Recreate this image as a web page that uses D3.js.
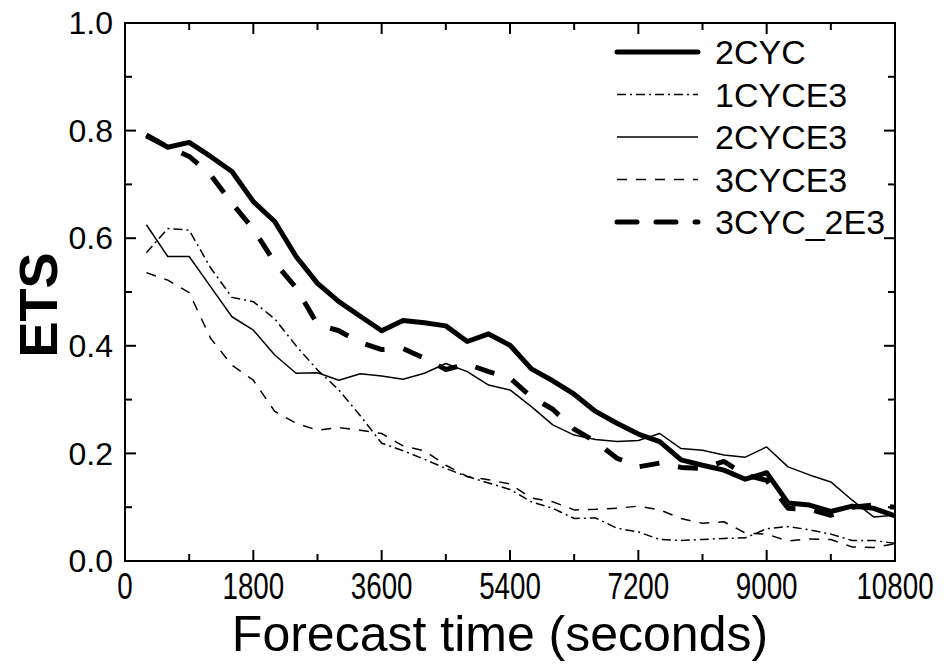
<!DOCTYPE html>
<html>
<head>
<meta charset="utf-8">
<script src="https://cdn.jsdelivr.net/npm/d3@7"></script>
<style>
  body { margin: 0; background: #fff; }
  text { font-family: "Liberation Sans", Arial, sans-serif; fill: #000; }
</style>
</head>
<body>
<div class="chart"></div>
<script>
// forecast time (s)
const times = [300, 600, 900, 1200, 1500, 1800, 2100, 2400, 2700, 3000, 3300, 3600,
    3900, 4200, 4500, 4800, 5100, 5400, 5700, 6000, 6300, 6600, 6900, 7200,
    7500, 7800, 8100, 8400, 8700, 9000, 9300, 9600, 9900, 10200, 10500, 10800]

// ETS per experiment
const ets2CYC = [.792, .769, .778, .752, .724, .668, .631, .566, .516, .482, .455, .428,
    .447, .443, .437, .408, .422, .401, .357, .335, .310, .278, .256, .236,
    .222, .188, .178, .169, .152, .164, .108, .104, .092, .102, .098, .084]
const ets1CYCE3 = [.573, .618, .615, .545, .490, .482, .450, .400, .355, .318, .270, .219,
    .205, .189, .172, .157, .145, .133, .110, .098, .079, .080, .061, .054,
    .040, .038, .040, .042, .043, .060, .064, .058, .050, .038, .038, .033]
const ets2CYCE3 = [.625, .566, .566, .510, .454, .429, .383, .349, .350, .336, .348, .344,
    .338, .349, .367, .352, .327, .318, .287, .253, .234, .226, .222, .224,
    .237, .209, .206, .197, .193, .212, .175, .160, .147, .113, .082, .085]
const ets3CYCE3 = [.536, .522, .499, .414, .364, .336, .278, .256, .243, .248, .243, .237,
    .214, .205, .178, .157, .151, .143, .117, .110, .095, .096, .098, .102,
    .095, .079, .070, .073, .052, .050, .037, .041, .040, .026, .025, .032]
const ets3CYC2E3 = [.790, .770, .752, .718, .665, .617, .555, .508, .440, .428, .406, .393,
    .395, .377, .356, .366, .352, .340, .305, .282, .245, .222, .191, .175,
    .182, .174, .172, .185, .160, .150, .098, .096, .085, .100, .104, .100]

const seriesNames = ['2CYC', '1CYCE3', '2CYCE3', '3CYCE3', '3CYC_2E3']
const seriesValues = [ets2CYC, ets1CYCE3, ets2CYCE3, ets3CYCE3, ets3CYC2E3]

const xTicks = [0, 1800, 3600, 5400, 7200, 9000, 10800]
const xMinor = [900, 2700, 4500, 6300, 8100, 9900]
const yTicks = [0, 0.2, 0.4, 0.6, 0.8, 1.0]
const yMinor = [0.1, 0.3, 0.5, 0.7, 0.9]

// line styles
const styles = {
    '2CYC': { width: 5, dash: null },
    '1CYCE3': { width: 1.5, dash: '9,4,2,4' },
    '2CYCE3': { width: 1.5, dash: null },
    '3CYCE3': { width: 1.5, dash: '10,9' },
    '3CYC_2E3': { width: 5, dash: '20,19' }
}

const svg_width = 949
const svg_height = 664
const margin = { top: 23, right: 54, bottom: 103, left: 125 }
const chart_width = svg_width - margin.left - margin.right
const chart_height = svg_height - margin.top - margin.bottom

const svg = d3.select('.chart').append('svg')
    .attr('width', svg_width).attr('height', svg_height)

const g = svg.append('g').attr('transform', `translate(${margin.left},${margin.top})`)

const xScale = d3.scaleLinear([0, 10800], [0, chart_width])
const yScale = d3.scaleLinear([0, 1], [chart_height, 0])

// clip
svg.append('defs').append('clipPath').attr('id', 'clip')
    .append('rect').attr('width', chart_width).attr('height', chart_height)

// lines
const line = d3.line().x((d, i) => xScale(times[i])).y(d => yScale(d))
const lines = g.append('g').attr('clip-path', 'url(#clip)')
seriesNames.forEach((name, k) => {
    lines.append('path')
        .attr('d', line(seriesValues[k]))
        .attr('fill', 'none')
        .attr('stroke', '#000')
        .attr('stroke-width', styles[name].width)
        .attr('stroke-dasharray', styles[name].dash)
        .attr('stroke-linejoin', 'round')
})

// tick labels
g.append('g').selectAll('text').data(xTicks).join('text')
    .attr('transform', d => `translate(${xScale(d)},${chart_height + 38}) scale(0.75,1)`)
    .attr('text-anchor', 'middle').style('font-size', '37px')
    .text(d => d)
const fmtY = d3.format('.1f')
g.append('g').selectAll('text').data(yTicks).join('text')
    .attr('x', -12).attr('y', d => yScale(d)).attr('dy', '0.35em')
    .attr('text-anchor', 'end').style('font-size', '32px')
    .text(fmtY)

// inward ticks on all four sides
const tickRows = [
    { vals: xTicks, len: 11, dir: 'x' }, { vals: xMinor, len: 7, dir: 'x' },
    { vals: yTicks, len: 11, dir: 'y' }, { vals: yMinor, len: 7, dir: 'y' }
]
const tickG = g.append('g')
tickRows.forEach(r => {
    r.vals.forEach(v => {
        const segs = r.dir === 'x'
            ? [[xScale(v), chart_height, xScale(v), chart_height - r.len], [xScale(v), 0, xScale(v), r.len]]
            : [[0, yScale(v), r.len, yScale(v)], [chart_width, yScale(v), chart_width - r.len, yScale(v)]]
        segs.forEach(s => {
            tickG.append('line')
                .attr('x1', s[0]).attr('y1', s[1]).attr('x2', s[2]).attr('y2', s[3])
                .style('stroke', '#000').style('stroke-width', '2px')
        })
    })
})

// frame
g.append('rect').attr('width', chart_width).attr('height', chart_height)
    .attr('fill', 'none').attr('stroke', '#000').attr('stroke-width', 2)

// axis titles
svg.append('text')
    .attr('transform', `translate(${margin.left + chart_width / 2 - 10},651)`)
    .attr('text-anchor', 'middle').style('font-size', '50px')
    .text('Forecast time (seconds)')
svg.append('text')
    .attr('transform', 'translate(57,305) rotate(-90)')
    .attr('text-anchor', 'middle').style('font-size', '54px').style('font-weight', 'bold')
    .text('ETS')

// legend
const legend = svg.append('g').attr('transform', 'translate(617,52)')
seriesNames.forEach((name, k) => {
    const row = legend.append('g').attr('transform', `translate(0,${k * 42.5})`)
    row.append('line').attr('x1', 0).attr('x2', 81).attr('y1', 0).attr('y2', 0)
        .attr('stroke', '#000')
        .attr('stroke-width', styles[name].width)
        .attr('stroke-dasharray', styles[name].dash)
        .attr('stroke-linecap', styles[name].width > 2 ? 'round' : 'butt')
    row.append('text').attr('x', 98).attr('y', 12)
        .style('font-size', '34px').text(name)
})
</script>
</body>
</html>
